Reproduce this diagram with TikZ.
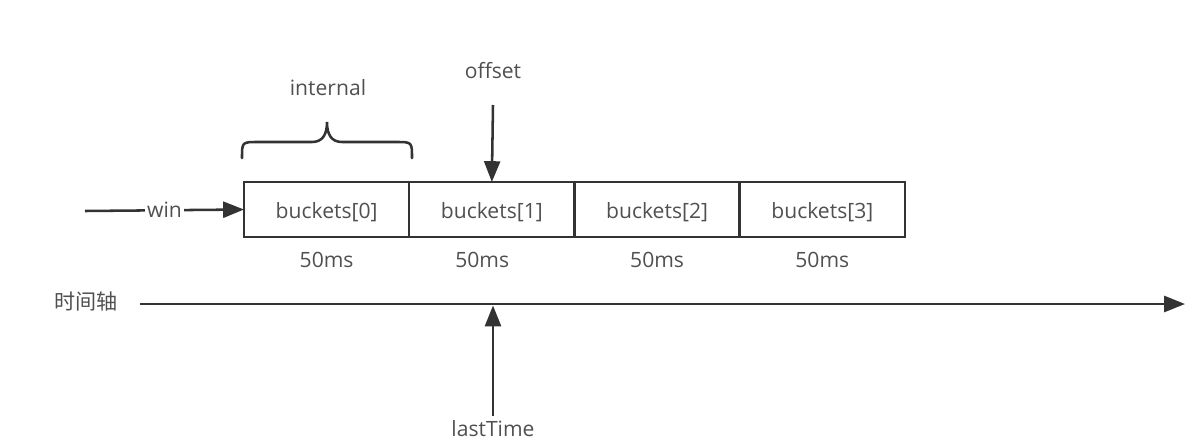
\documentclass[tikz,border=0pt]{standalone}
\usepackage{fontspec}
\setmainfont{Open Sans}
\newfontfamily\cjk{Noto Sans CJK SC}
\usetikzlibrary{arrows.meta,positioning}
\definecolor{linegray}{HTML}{333333}
\definecolor{textgray}{HTML}{505050}

\begin{document}
\begin{tikzpicture}[x=0.025cm, y=-0.025cm, line width=1.8pt, >={Triangle[length=0.52cm,width=0.4cm]},
    font=\fontsize{15}{18}\selectfont, text=textgray,
    bucket/.style={draw=linegray, minimum width=4.13cm, minimum height=1.375cm, inner sep=0pt, outer sep=0pt,
      text height=15.5pt, text depth=3.3pt},
    mslabel/.style={inner sep=0pt, below=0.36cm of #1}]
  \useasboundingbox (0,0) rectangle (1198,441);
  % window buckets
  \node[bucket] (b0) at (326.6,209.5) {buckets[0]};
  \node[bucket, right=0pt of b0] (b1) {buckets[1]};
  \node[bucket, right=0pt of b1] (b2) {buckets[2]};
  \node[bucket, right=0pt of b2] (b3) {buckets[3]};
  \node[mslabel=b0] (ms0) {50ms};
  \node[mslabel=b1, xshift=-0.24cm] (ms1) {50ms};
  \node[mslabel=b2] (ms2) {50ms};
  \node[mslabel=b3] (ms3) {50ms};
  % win pointer
  \coordinate (winstart) at (85,211);
  \draw[->, draw=linegray] (winstart) -- node[fill=white, inner sep=1.5pt] (win) {win} (b0.west);
  % internal brace
  \node (internal) at (328,88) {internal};
  \draw[draw=linegray, line cap=round] (242,158) .. controls (242,142) .. (258,142) -- (312,142)
    .. controls (323,142) and (327,134) .. (327,122)
    .. controls (327,134) and (331,142) .. (342,142) -- (396,142)
    .. controls (412,142) .. (412,158);
  % offset
  \node (offset) at (493,71) {offset};
  \coordinate (offtop) at (493,105);
  \draw[->, draw=linegray] (offtop) -- (b1.north);
  % time axis
  \node (axis) at (86,301) {\cjk 时间轴};
  \coordinate (tstart) at (140,304);
  \coordinate (tend) at (1185,304);
  \draw[->, draw=linegray] (tstart) -- (tend);
  % lastTime
  \node (lasttime) at (493,429) {lastTime};
  \coordinate (lastbot) at (493,416);
  \coordinate (lasttip) at (493,305.5);
  \draw[->, draw=linegray] (lastbot) -- (lasttip);
\end{tikzpicture}
\end{document}
